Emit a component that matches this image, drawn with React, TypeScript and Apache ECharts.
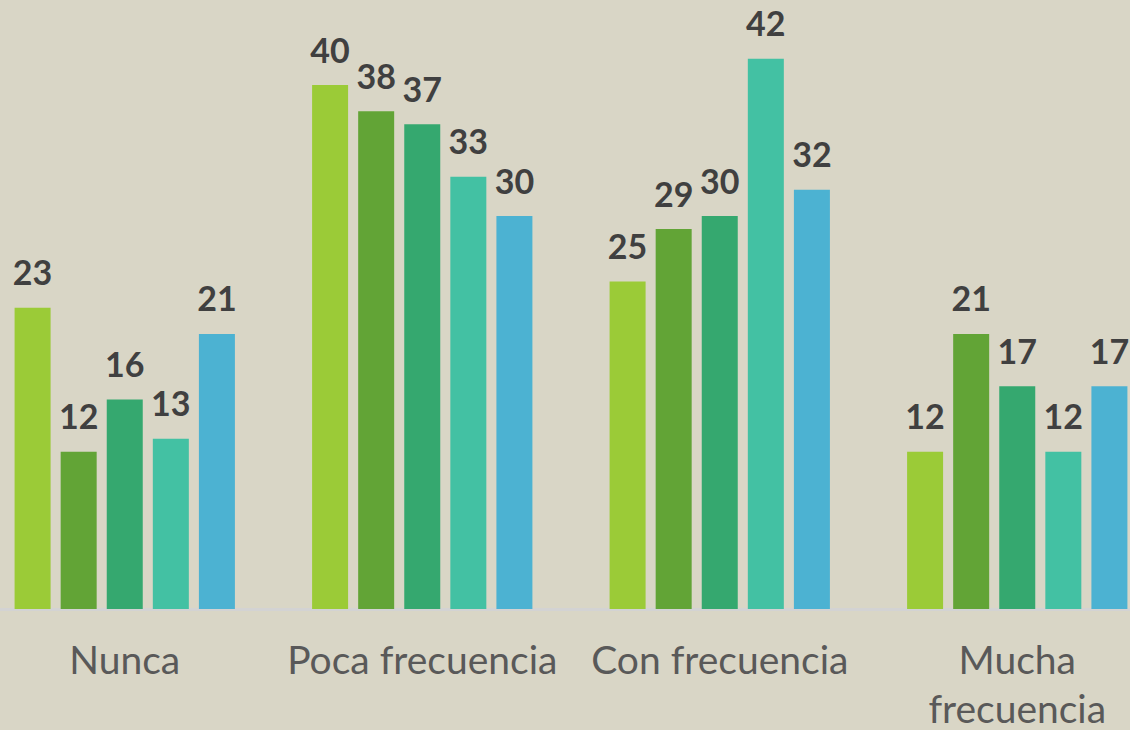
import React, { useEffect, useRef } from "react";
import * as echarts from "echarts";

const categories = ["Nunca", "Poca frecuencia", "Con frecuencia", "Mucha\nfrecuencia"];
const serie1 = [23, 40, 25, 12];
const serie2 = [12, 38, 29, 21];
const serie3 = [16, 37, 30, 17];
const serie4 = [13, 33, 42, 12];
const serie5 = [21, 30, 32, 17];
const seriesData = [serie1, serie2, serie3, serie4, serie5];
const colors = ["#9bcb37", "#62a436", "#35a86f", "#43c1a3", "#4cb2d2"];

export default function App() {
  const ref = useRef<HTMLDivElement>(null);
  useEffect(() => {
    document.body.style.margin = "0";
    const chart = echarts.init(ref.current!, null, { renderer: "svg", width: 1190, height: 730 });
    chart.setOption({
      animation: false,
      backgroundColor: "#d9d6c6",
      grid: {
        left: 0,
        right: 0,
        top: 19.5,
        bottom: 121,
        containLabel: false,
        outerBoundsMode: "none",
      },
      xAxis: {
        type: "category",
        data: categories,
        axisLine: { show: true, lineStyle: { color: "#d3d3d3", width: 3 } },
        axisTick: { show: false },
        axisLabel: {
          interval: 0,
          margin: 25,
          fontFamily: "Lato",
          fontSize: 39,
          lineHeight: 49,
          color: "#595959",
          verticalAlign: "top",
        },
      },
      yAxis: {
        type: "value",
        min: 0,
        max: 45,
        show: false,
        splitLine: { show: false },
      },
      series: seriesData.map((d, i) => ({
        type: "bar",
        data: d,
        barWidth: 36,
        barGap: "28%",
        itemStyle: { color: colors[i] },
        label: {
          show: true,
          position: "top",
          distance: 19,
          fontFamily: "Lato",
          fontWeight: "bold",
          fontSize: 34,
          color: "#404040",
        },
      })),
    });
    return () => chart.dispose();
  }, []);
  return (
    <div style={{ position: "relative", width: 1130, height: 730, overflow: "hidden", background: "#d9d6c6" }}>
      <div ref={ref} style={{ position: "absolute", left: -24, top: 0, width: 1190, height: 730 }} />
    </div>
  );
}
